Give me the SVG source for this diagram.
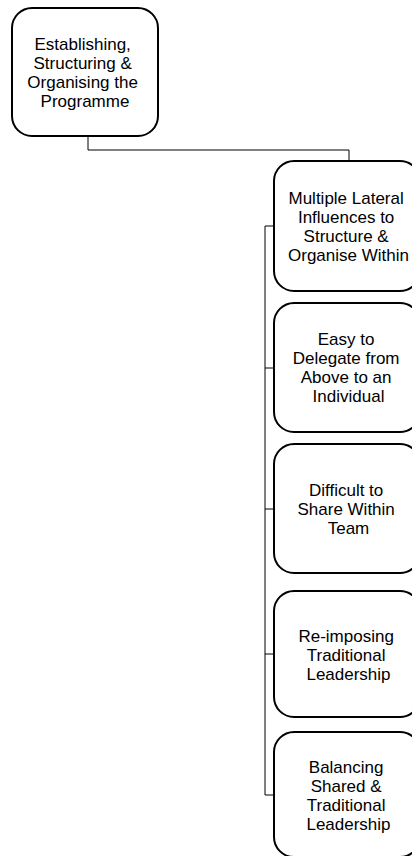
<svg xmlns="http://www.w3.org/2000/svg" width="412" height="856" viewBox="0 0 412 856">
  <style>
    .box { fill: #ffffff; stroke: #000000; stroke-width: 2; }
    .wire { fill: none; stroke: #000000; stroke-width: 1; }
    .label { font-family: "Liberation Sans", Arial, sans-serif; font-size: 17px; fill: #000000; text-anchor: middle; }
  </style>
  <rect width="412" height="856" fill="#ffffff"/>

  <!-- connectors -->
  <g id="connectors">
    <polyline class="wire" points="88,136 88,150 349,150 349,161"/>
    <line class="wire" x1="265" y1="226" x2="265" y2="795"/>
    <line class="wire" x1="265" y1="226" x2="274" y2="226"/>
    <line class="wire" x1="265" y1="368" x2="274" y2="368"/>
    <line class="wire" x1="265" y1="509" x2="274" y2="509"/>
    <line class="wire" x1="265" y1="654" x2="274" y2="654"/>
    <line class="wire" x1="265" y1="795" x2="274" y2="795"/>
  </g>

  <!-- root -->
  <g id="node-root">
    <rect class="box" x="12" y="8" width="146" height="128" rx="20" ry="20"/>
    <text class="label">
      <tspan x="85" y="49.5">Establishing,</tspan>
      <tspan x="85" y="68.5">Structuring &amp;</tspan>
      <tspan x="85" y="87.5">Organising the</tspan>
      <tspan x="85" y="106.5">Programme</tspan>
    </text>
  </g>

  <g id="node-lateral">
    <rect class="box" x="274" y="161" width="146" height="130" rx="20" ry="20"/>
    <text class="label">
      <tspan x="348.5" y="204">Multiple Lateral</tspan>
      <tspan x="348.5" y="223">Influences to</tspan>
      <tspan x="348.5" y="242">Structure &amp;</tspan>
      <tspan x="348.5" y="261">Organise Within</tspan>
    </text>
  </g>

  <g id="node-delegate">
    <rect class="box" x="274" y="303" width="146" height="129" rx="20" ry="20"/>
    <text class="label">
      <tspan x="348.5" y="345">Easy to</tspan>
      <tspan x="348.5" y="364">Delegate from</tspan>
      <tspan x="348.5" y="383">Above to an</tspan>
      <tspan x="348.5" y="402">Individual</tspan>
    </text>
  </g>

  <g id="node-share">
    <rect class="box" x="274" y="444" width="146" height="129" rx="20" ry="20"/>
    <text class="label">
      <tspan x="348.5" y="496">Difficult to</tspan>
      <tspan x="348.5" y="515">Share Within</tspan>
      <tspan x="348.5" y="534">Team</tspan>
    </text>
  </g>

  <g id="node-reimpose">
    <rect class="box" x="274" y="591" width="146" height="126" rx="20" ry="20"/>
    <text class="label">
      <tspan x="348.5" y="642">Re-imposing</tspan>
      <tspan x="348.5" y="661">Traditional</tspan>
      <tspan x="348.5" y="680">Leadership</tspan>
    </text>
  </g>

  <g id="node-balance">
    <rect class="box" x="274" y="732" width="146" height="125" rx="20" ry="20"/>
    <text class="label">
      <tspan x="348.5" y="773">Balancing</tspan>
      <tspan x="348.5" y="792">Shared &amp;</tspan>
      <tspan x="348.5" y="811">Traditional</tspan>
      <tspan x="348.5" y="830">Leadership</tspan>
    </text>
  </g>
</svg>
